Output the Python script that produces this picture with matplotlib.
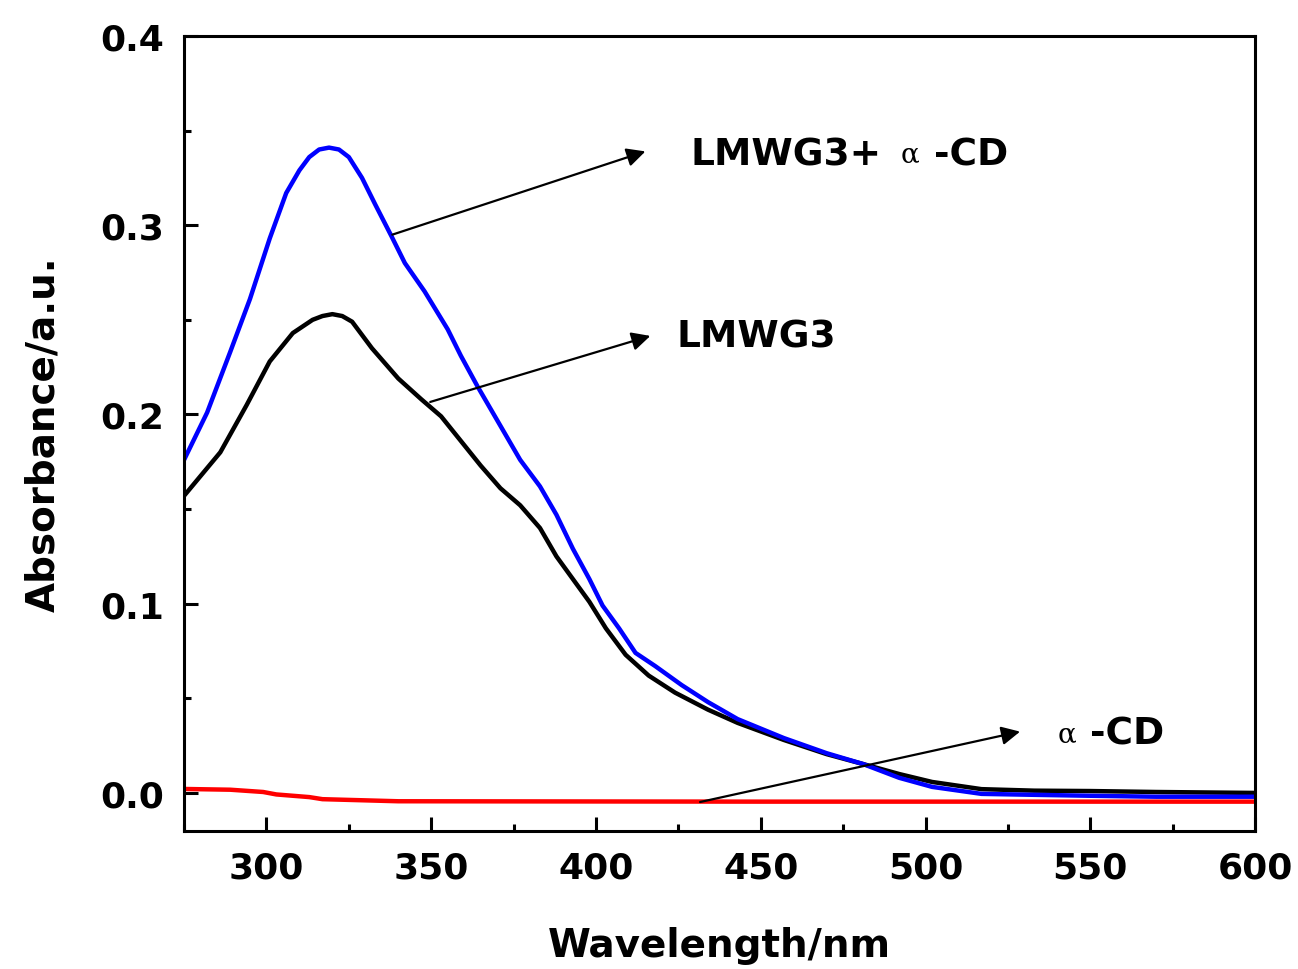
import matplotlib
matplotlib.use("Agg")
import matplotlib.pyplot as plt
from matplotlib.ticker import MultipleLocator

plt.rcParams['font.family'] = ['DejaVu Sans']

# --- spectra (wavelength in nm, absorbance in a.u.) ---
wl_complex = [275, 282, 289, 295, 301, 306, 310, 313, 316, 319, 322, 325, 329, 333,
              338, 342, 348, 355, 359, 364, 371, 377, 383, 388, 393, 398, 402, 407,
              412, 418, 426, 434, 443, 457, 470, 481, 492, 502, 517, 533, 550, 570, 600]
abs_complex = [0.176, 0.201, 0.233, 0.261, 0.293, 0.317, 0.329, 0.336, 0.340, 0.341,
               0.340, 0.336, 0.325, 0.311, 0.294, 0.280, 0.265, 0.245, 0.231, 0.215,
               0.194, 0.176, 0.162, 0.147, 0.129, 0.113, 0.099, 0.087, 0.074, 0.067,
               0.057, 0.048, 0.039, 0.029, 0.021, 0.0153, 0.008, 0.0032, -0.0005,
               -0.001, -0.0015, -0.002, -0.002]

wl_gel = [275, 286, 294, 301, 308, 314, 317, 320, 323, 326, 332, 340, 347, 353, 359,
          365, 371, 377, 383, 388, 393, 398, 403, 409, 416, 424, 434, 443, 457, 470,
          481, 492, 502, 517, 533, 550, 570, 600]
abs_gel = [0.157, 0.180, 0.205, 0.228, 0.243, 0.250, 0.252, 0.253, 0.252, 0.249, 0.235,
           0.219, 0.208, 0.199, 0.186, 0.173, 0.161, 0.152, 0.140, 0.125, 0.113, 0.101,
           0.087, 0.073, 0.062, 0.053, 0.044, 0.037, 0.028, 0.0205, 0.0153, 0.010,
           0.0058, 0.002, 0.0012, 0.001, 0.0005, 0.0]

wl_cd = [275, 289, 299, 303, 313, 317, 340, 450, 600]
abs_cd = [0.0021, 0.0017, 0.0005, -0.0008, -0.0022, -0.0033, -0.0044, -0.0046, -0.0046]

# arrows: (tail on curve) -> (head near label)
arrows = [((338.2, 0.295), (415.0, 0.339)),
          ((349.7, 0.2066), (416.5, 0.2415)),
          ((431.6, -0.0048), (528.7, 0.0324))]

fig = plt.figure(figsize=(12.98, 9.70), dpi=100)
ax = fig.add_axes([0.1418, 0.1423, 0.8251, 0.8196])

ax.plot(wl_cd, abs_cd, color='#ff0000', lw=3.2)
ax.plot(wl_gel, abs_gel, color='black', lw=3.2)
ax.plot(wl_complex, abs_complex, color='#0000ff', lw=3.2)

for tail, head in arrows:
    ax.annotate('', xy=head, xytext=tail,
                arrowprops=dict(arrowstyle='-|>', color='black', lw=1.6,
                                mutation_scale=28, shrinkA=0, shrinkB=0))

lab = dict(fontsize=27, fontweight='bold', va='center', ha='left')
greek = dict(fontsize=20, family='DejaVu Serif', va='center', ha='left')
ax.text(428.6, 0.3376, 'LMWG3+', **lab)
ax.text(492.4, 0.3376, 'α', **greek)
ax.text(502.5, 0.3376, '-CD', **lab)
ax.text(424.4, 0.241, 'LMWG3', **lab)
ax.text(540.2, 0.0312, 'α', **greek)
ax.text(550.0, 0.0312, '-CD', **lab)

ax.set_xlim(275, 600)
ax.set_ylim(-0.0201, 0.4)
ax.xaxis.set_major_locator(MultipleLocator(50))
ax.xaxis.set_minor_locator(MultipleLocator(25))
ax.yaxis.set_major_locator(MultipleLocator(0.1))
ax.yaxis.set_minor_locator(MultipleLocator(0.05))
ax.yaxis.set_major_formatter(plt.FuncFormatter(lambda v, p: f"{v:.1f}"))

ax.tick_params(which='both', direction='in', top=False, right=False, width=2.2)
ax.tick_params(which='major', length=10, labelsize=26, pad=14)
ax.tick_params(which='minor', length=5)
for t in ax.get_xticklabels() + ax.get_yticklabels():
    t.set_fontweight('bold')
for s in ax.spines.values():
    s.set_linewidth(2.2)

ax.set_xlabel('Wavelength/nm', fontsize=28, fontweight='bold', labelpad=30)
ax.set_ylabel('Absorbance/a.u.', fontsize=28, fontweight='bold', labelpad=28)

fig.savefig('out.png', dpi=100)
